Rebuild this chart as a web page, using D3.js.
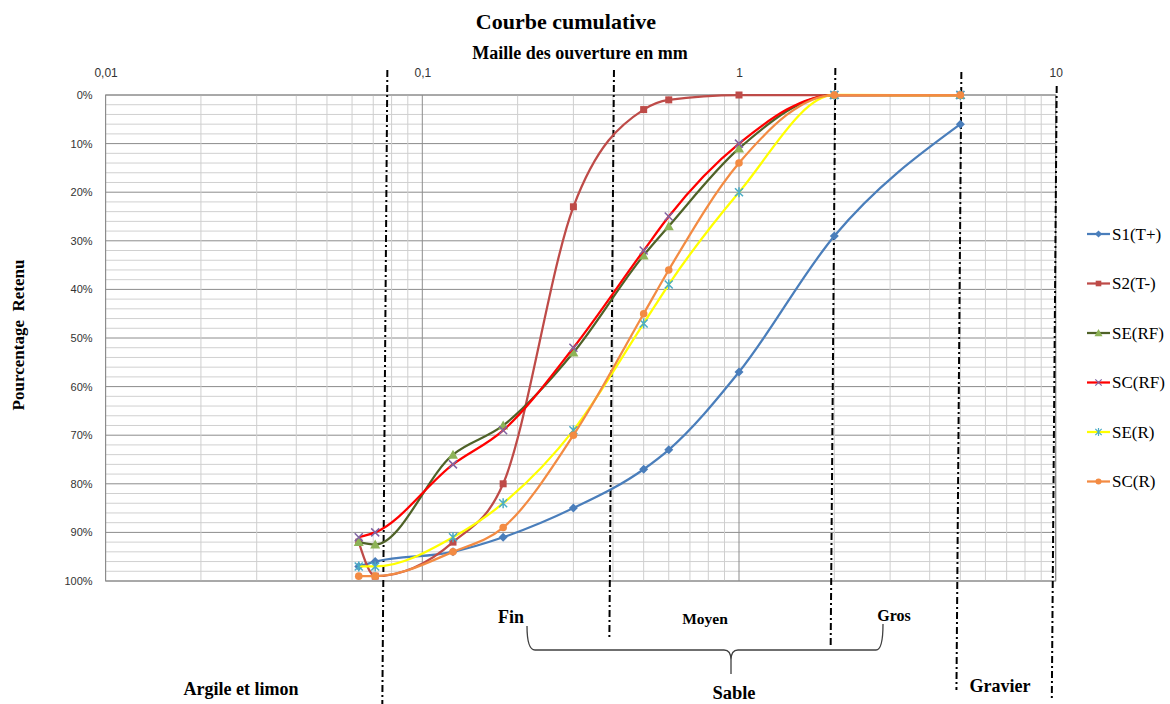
<!DOCTYPE html>
<html>
<head>
<meta charset="utf-8">
<script src="https://cdn.jsdelivr.net/npm/d3@7"></script>
<style>
  body { margin: 0; background: #fff; }
  svg { display: block; }
  .tick text { font-family: 'Liberation Sans', Arial, sans-serif; font-size: 11px; fill: #333; }
  .x-axis .tick text { font-size: 12px; }
  .lbl { font-family: 'Liberation Serif', 'Times New Roman', serif; font-weight: bold; fill: #000; white-space: pre; }
</style>
</head>
<body>
<div id="chart"></div>
<script>
// sieve openings (mm) and cumulative retained (%)
const sieves = [0.063, 0.071, 0.125, 0.18, 0.3, 0.5, 0.6, 1, 2, 5]
const seriesNames = ['S1(T+)', 'S2(T-)', 'SE(RF)', 'SC(RF)', 'SE(R)', 'SC(R)']
const s1 = [97, 96, 94, 91, 85, 77, 73, 57, 29, 6]
const s2 = [92, 99, 92, 80, 23, 3, 1, 0, 0, 0]
const seRF = [92, 92.5, 74, 68, 53, 33, 27, 11, 0, 0]
const scRF = [91, 90, 76, 69, 52, 32, 25, 10, 0, 0]
const seR = [97, 97, 91, 84, 69, 47, 39, 20, 0, 0]
const scR = [99, 99, 94, 89, 70, 45, 36, 14, 0, 0]
const xTickValues = [0.01, 0.1, 1, 10]
const yTickValues = [0, 10, 20, 30, 40, 50, 60, 70, 80, 90, 100]
// class limits (mm)
const limits = [0.077, 0.4, 2, 5, 10]

const width = 1170
const height = 704
const plot = { left: 105.6, right: 1055.7, top: 95, bottom: 581 }

const svg = d3
  .select('#chart')
  .append('svg')
  .attr('width', width)
  .attr('height', height)

const xPositionScale = d3.scaleLog().domain([0.01, 10]).range([plot.left, plot.right])
const yPositionScale = d3.scaleLinear().domain([0, 100]).range([plot.top, plot.bottom])

// grid
const grid = svg.append('g').attr('class', 'grid')
const yMinor = d3.range(0, 101, 2)
grid
  .selectAll('.hline')
  .data(yMinor)
  .enter()
  .append('line')
  .attr('x1', plot.left)
  .attr('x2', plot.right)
  .attr('y1', d => yPositionScale(d))
  .attr('y2', d => yPositionScale(d))
  .attr('stroke', d => (d % 10 === 0 ? '#8c8c8c' : '#d0d0d0'))
  .attr('stroke-width', 1)

grid
  .selectAll('.vline')
  .data(xPositionScale.ticks())
  .enter()
  .append('line')
  .attr('x1', d => xPositionScale(d))
  .attr('x2', d => xPositionScale(d))
  .attr('y1', plot.top)
  .attr('y2', plot.bottom)
  .attr('stroke', d => (Math.abs(Math.log10(d) - Math.round(Math.log10(d))) < 1e-9 ? '#8c8c8c' : '#cfcfcf'))
  .attr('stroke-width', 1)

grid
  .append('rect')
  .attr('x', plot.left)
  .attr('y', plot.top)
  .attr('width', plot.right - plot.left)
  .attr('height', plot.bottom - plot.top)
  .attr('fill', 'none')
  .attr('stroke', '#8c8c8c')

// axes
const xAxis = d3
  .axisTop(xPositionScale)
  .tickValues(xTickValues)
  .tickSize(0)
  .tickPadding(5)
  .tickFormat(d => String(d).replace('.', ','))

svg
  .append('g')
  .attr('class', 'axis x-axis')
  .attr('transform', 'translate(0,82)')
  .call(xAxis)
svg.select('.x-axis .domain').remove()

const yAxis = d3
  .axisLeft(yPositionScale)
  .tickValues(yTickValues)
  .tickSize(0)
  .tickPadding(13)
  .tickFormat(d => d + '%')

svg
  .append('g')
  .attr('class', 'axis y-axis')
  .attr('transform', 'translate(' + plot.left + ',0)')
  .call(yAxis)
svg.select('.y-axis .domain').remove()

// class limit lines (dash-dot, slightly slanted like the hand drawn ones)
const limitEnds = [704, 637, 645, 690, 700]
const limitStarts = [70, 70, 68, 72, 86]
svg
  .selectAll('.limit')
  .data(limits)
  .enter()
  .append('line')
  .attr('class', 'limit')
  .attr('x1', d => xPositionScale(d) + 1)
  .attr('y1', (d, i) => limitStarts[i])
  .attr('x2', (d, i) => xPositionScale(d) - 4 * (limitEnds[i] - limitStarts[i]) / 630)
  .attr('y2', (d, i) => limitEnds[i])
  .attr('stroke', '#000')
  .attr('stroke-width', 2)
  .attr('stroke-dasharray', '7,3,2,3')

// series
const colors = {
  line: ['#4a7ebb', '#be4b48', '#4f6228', '#ff0000', '#ffff00', '#f38b43'],
  marker: ['#4a7ebb', '#be4b48', '#8db357', '#8064a2', '#4bacc6', '#f38b43']
}
const shapes = ['diamond', 'square', 'triangle', 'x', 'star', 'circle']
const allSeries = [s1, s2, seRF, scRF, seR, scR]

const line = d3
  .line()
  .x((d, i) => xPositionScale(sieves[i]))
  .y(d => yPositionScale(d))
  .curve(d3.curveMonotoneX)

function marker(sel, shape, color) {
  if (shape === 'diamond') {
    sel.append('path').attr('d', 'M0,-4.5L4.5,0L0,4.5L-4.5,0Z').attr('fill', color)
  } else if (shape === 'square') {
    sel.append('rect').attr('x', -3.5).attr('y', -3.5).attr('width', 7).attr('height', 7).attr('fill', color)
  } else if (shape === 'triangle') {
    sel.append('path').attr('d', 'M0,-5L5,4L-5,4Z').attr('fill', color)
  } else if (shape === 'x') {
    sel.append('path').attr('d', 'M-4,-4L4,4M-4,4L4,-4').attr('stroke', color).attr('stroke-width', 1.5)
  } else if (shape === 'star') {
    sel.append('path').attr('d', 'M-4,-4L4,4M-4,4L4,-4M0,-5L0,5').attr('stroke', color).attr('stroke-width', 1.5)
  } else {
    sel.append('circle').attr('r', 3.8).attr('fill', color)
  }
}

allSeries.forEach((values, k) => {
  const g = svg.append('g').attr('class', 'series')
  g.append('path')
    .datum(values)
    .attr('d', line)
    .attr('fill', 'none')
    .attr('stroke', colors.line[k])
    .attr('stroke-width', 2.25)
  g.selectAll('.pt')
    .data(values)
    .enter()
    .append('g')
    .attr('transform', (d, i) => 'translate(' + xPositionScale(sieves[i]) + ',' + yPositionScale(d) + ')')
    .each(function() {
      marker(d3.select(this), shapes[k], colors.marker[k])
    })
})

// legend
const legend = svg
  .selectAll('.legend')
  .data(seriesNames)
  .enter()
  .append('g')
  .attr('class', 'legend')
  .attr('transform', (d, i) => 'translate(1087,' + (234 + i * 49.5) + ')')

legend
  .append('line')
  .attr('x1', 0)
  .attr('x2', 23)
  .attr('stroke', (d, i) => colors.line[i])
  .attr('stroke-width', 2.25)
legend.each(function(d, i) {
  const m = d3.select(this).append('g').attr('transform', 'translate(11.5,0) scale(0.8)')
  marker(m, shapes[i], colors.marker[i])
})
legend
  .append('text')
  .attr('x', 25)
  .attr('dy', '0.35em')
  .style('font-family', "'Liberation Serif', 'Times New Roman', serif")
  .style('font-size', '17px')
  .text(d => d)

// titles
svg.append('text').attr('class', 'lbl').attr('x', 566).attr('y', 29)
  .attr('text-anchor', 'middle').style('font-size', '22px').text('Courbe cumulative')
svg.append('text').attr('class', 'lbl').attr('x', 580).attr('y', 59)
  .attr('text-anchor', 'middle').style('font-size', '18px').text('Maille des ouverture en mm')
svg.append('text').attr('class', 'lbl')
  .attr('transform', 'translate(24,335) rotate(-90)')
  .attr('text-anchor', 'middle').style('font-size', '17px').text('Pourcentage  Retenu')

// soil classes
const classLabels = [
  { t: 'Fin', x: 511, y: 623, s: 18 },
  { t: 'Moyen', x: 705, y: 624, s: 15.5 },
  { t: 'Gros', x: 894, y: 621, s: 16 },
  { t: 'Sable', x: 734, y: 699, s: 18.5 },
  { t: 'Argile et limon', x: 241, y: 695, s: 18 },
  { t: 'Gravier', x: 1000, y: 692, s: 18 }
]
svg.selectAll('.cls')
  .data(classLabels)
  .enter()
  .append('text')
  .attr('class', 'lbl')
  .attr('x', d => d.x)
  .attr('y', d => d.y)
  .attr('text-anchor', 'middle')
  .style('font-size', d => d.s + 'px')
  .text(d => d.t)

svg.append('path')
  .attr('d', 'M527,626 Q527,650 535,650 L724,650 Q731,650 731,660 L731,674 M731,660 Q731,650 738,650 L876,650 Q883,650 883,624')
  .attr('fill', 'none')
  .attr('stroke', '#404040')
  .attr('stroke-width', 1.3)
</script>
</body>
</html>
